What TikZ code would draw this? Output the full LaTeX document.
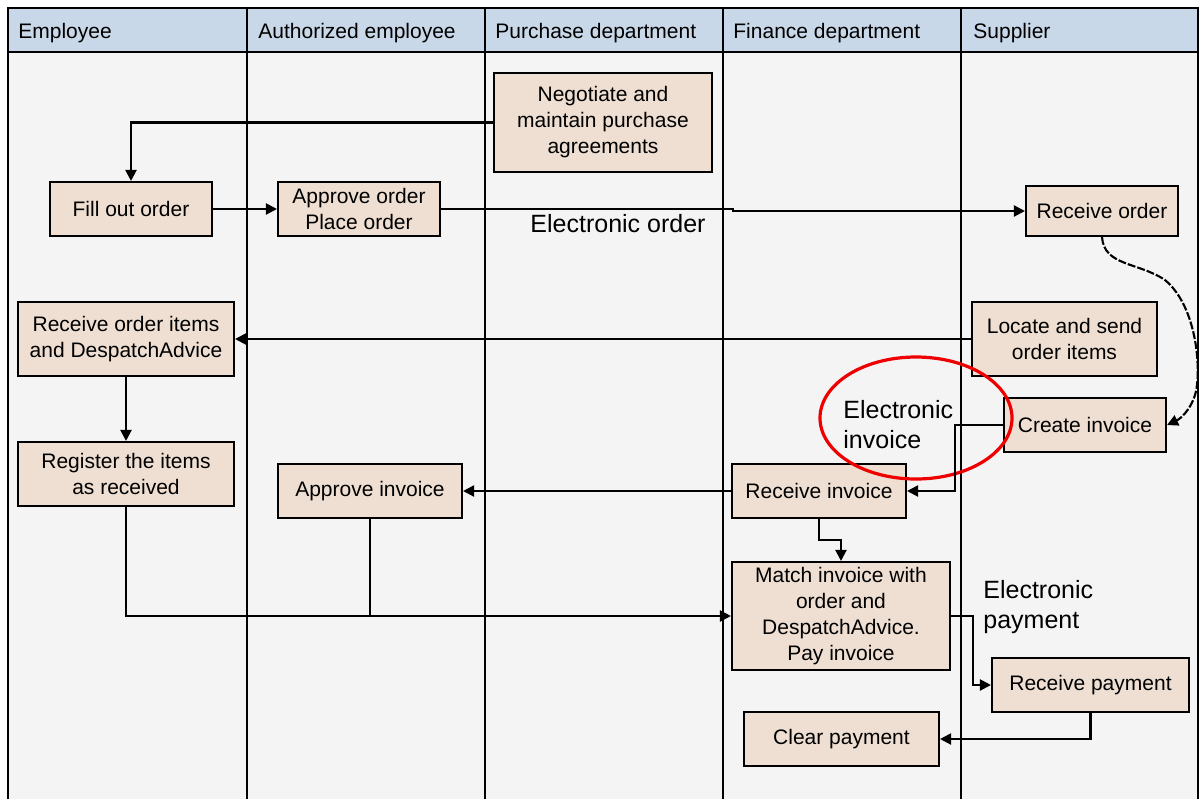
\documentclass[tikz,border=0pt]{standalone}
\usepackage{fontspec}
\setmainfont{Liberation Sans}
\usetikzlibrary{arrows.meta}
\definecolor{lanebg}{HTML}{F4F4F4}
\definecolor{headbg}{HTML}{C9D8E8}
\definecolor{boxfill}{HTML}{EEDFD2}
\definecolor{ringred}{HTML}{EE0000}
\tikzset{
  task/.style={draw=black, line width=1.05pt, fill=boxfill, inner sep=0pt,
    align=center, font=\fontsize{10.5}{13}\selectfont},
  flow/.style={line width=1.05pt, draw=black},
  arr/.style={flow, -{Triangle[length=5.5pt,width=5.5pt]}},
  lanehead/.style={anchor=west, inner sep=0pt, font=\fontsize{10.5}{13}\selectfont},
  note/.style={anchor=west, inner sep=0pt, align=left, font=\fontsize{12.5}{15}\selectfont},
  laneline/.style={line width=1.05pt, draw=black}
}
\begin{document}
\begin{tikzpicture}[x=0.5pt, y=-0.5pt]
\useasboundingbox (0,0) rectangle (1200,799);
% swimlane frame and header band
\fill[lanebg] (8,52) rectangle (1198,799);
\fill[headbg] (8,8) rectangle (1198,52);
\draw[laneline] (8,799) -- (8,8) -- (1198,8) -- (1198,799);
\draw[laneline] (8,52) -- (1198,52);
\foreach \xx in {247,485,723,961} \draw[laneline] (\xx,8) -- (\xx,799);
\node[lanehead] (h1) at (18,33) {Employee};
\node[lanehead] (h2) at (258,33) {Authorized employee};
\node[lanehead] (h3) at (495,33) {Purchase department};
\node[lanehead] (h4) at (733,33) {Finance department};
\node[lanehead] (h5) at (973,33) {Supplier};

% process steps
\node[task, minimum width=109pt, minimum height=49.5pt] (neg) at (603,122.5) {Negotiate and\\maintain purchase\\agreements};
\node[task, minimum width=81pt, minimum height=27pt] (fill) at (131,209) {Fill out order};
\node[task, minimum width=81pt, minimum height=27pt] (appr) at (359,209) {Approve order\\Place order};
\node[task, minimum width=76pt, minimum height=25pt] (ro) at (1102,211) {Receive order};
\node[task, minimum width=108pt, minimum height=37pt] (roi) at (126,339) {Receive order items\\and DespatchAdvice};
\node[task, minimum width=92.5pt, minimum height=37pt] (loc) at (1064.5,339) {Locate and send\\order items};
\node[task, minimum width=81pt, minimum height=27pt] (ci) at (1085,425) {Create invoice};
\node[task, minimum width=108pt, minimum height=32pt] (reg) at (126,474) {Register the items\\as received};
\node[task, minimum width=92pt, minimum height=27pt] (ainv) at (370,491) {Approve invoice};
\node[task, minimum width=87pt, minimum height=27pt] (rinv) at (819,491) {Receive invoice};
\node[task, minimum width=109pt, minimum height=54pt] (match) at (841,616) {Match invoice with\\order and\\DespatchAdvice.\\Pay invoice};
\node[task, minimum width=98.5pt, minimum height=27pt] (rp) at (1090.5,685) {Receive payment};
\node[task, minimum width=97.5pt, minimum height=27pt] (cp) at (841.5,739) {Clear payment};

% message labels
\node[anchor=center, inner sep=0pt, font=\fontsize{12.5}{15}\selectfont] (lorder) at (618,224) {Electronic order};
\node[note] (linv) at (843,425) {Electronic\\invoice};
\node[note] (lpay) at (983,607) {Electronic\\payment};
\draw[ringred, line width=1.6pt] (916,418) ellipse [x radius=48pt, y radius=30.5pt];

% routing points
\coordinate (jog) at (733,209);
\coordinate (invbend) at (955,425);
\coordinate (mbend) at (819,540);
\coordinate (paybend) at (973,616);

% flows
\draw[arr] (neg.west) -| (fill.north);
\draw[arr] (fill.east) -- (appr.west);
\draw[arr] (appr.east) -- (jog) |- (ro.west);
\draw[arr] (loc.west) -- (roi.east);
\draw[arr] (roi.south) -- (reg.north);
\draw[arr] (ci.west) -- (invbend) |- (rinv.east);
\draw[arr] (rinv.west) -- (ainv.east);
\draw[arr] (rinv.south) -- (mbend) -| (match.north);
\draw[arr] (reg.south) |- (match.west);
\draw[flow] (ainv.south) -- (ainv.south |- match.west);
\draw[arr] (match.east) -- (paybend) |- (rp.west);
\draw[arr] (rp.south) |- (cp.east);
\draw[arr, dash pattern=on 4pt off 1pt] (ro.south) .. controls (1104,266) and (1138,262) .. (1165,280)
  .. controls (1195,305) and (1200,360) .. (1197,385)
  .. controls (1195,405) and (1182,418) .. (ci.east);
\end{tikzpicture}
\end{document}
